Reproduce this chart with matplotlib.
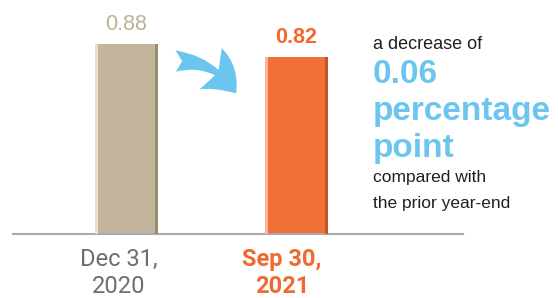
import matplotlib.pyplot as plt
from matplotlib.patches import FancyArrowPatch

# data
categories = ['Dec 31,\n2020', 'Sep 30,\n2021']
ratios = [0.88, 0.82]
value_labels = ['0.88', '0.82']
decrease = '0.06'

bar_colors = ['#C3B59B', '#F07038']
light_edges = ['#E6DDCC', '#F9B797']
dark_edges = ['#9C8C6E', '#C4532A']
label_colors = ['#BFB196', '#F06A30']
tick_colors = ['#6D6E71', '#F06A30']
label_weights = ['normal', 'bold']
label_shift = [-8, -14]  # labels sit a little left of the bars in the original
blue = '#6CC5EF'

fig = plt.figure(figsize=(5.58, 2.98), dpi=100)
ax = fig.add_axes([13 / 558, 64 / 298, 450 / 558, 234 / 298])

x = list(range(len(categories)))
w = 0.372
edge = 0.018
ax.bar(x, ratios, width=w, color=bar_colors, zorder=2)
# bevel strips on the sides of each bar
ax.bar([i - w / 2 for i in x], ratios, width=edge, align='edge', color=light_edges, zorder=3)
ax.bar([i + w / 2 - edge for i in x], ratios, width=edge, align='edge', color=dark_edges, zorder=3)

for i, v in enumerate(ratios):
    ax.annotate(value_labels[i], (x[i], v), xytext=(0, 10), textcoords='offset points',
                ha='center', va='baseline', fontsize=15.5, color=label_colors[i],
                fontweight=label_weights[i], family='Liberation Sans')

ax.set_xlim(-0.67, 1.985)
ax.set_ylim(0, 1.083)
for s in ['top', 'right', 'left']:
    ax.spines[s].set_visible(False)
ax.spines['bottom'].set_color('#A7A9AC')
ax.spines['bottom'].set_linewidth(1.5)
ax.set_yticks([])
ax.set_xticks([])

# category labels under the baseline
for i, c in enumerate(categories):
    ax.annotate(c, (x[i], 0), xytext=(label_shift[i] * 0.72, -10), textcoords='offset points',
                ha='center', va='top', fontsize=17, family='Roboto', linespacing=1.22,
                color=tick_colors[i], fontweight=label_weights[i], annotation_clip=False)

# curved arrow between the bars
arrow = FancyArrowPatch((0.274, 0.80), (0.655, 0.64), transform=ax.transData,
                        connectionstyle='arc3,rad=-0.3',
                        arrowstyle='fancy,head_length=1.5,head_width=2.0,tail_width=0.9',
                        mutation_scale=17, color=blue, lw=0, zorder=4)
ax.add_patch(arrow)

# annotation text on the right
fig.text(373 / 558, 1 - 49 / 298, 'a decrease of', fontsize=13, color='#231F20',
         family='Liberation Sans', va='baseline')
fig.text(373 / 558, 1 - 83 / 298, decrease, fontsize=24, color=blue, fontweight='bold',
         family='Liberation Sans', va='baseline')
fig.text(373 / 558, 1 - 120 / 298, 'percentage', fontsize=24, color=blue, fontweight='bold',
         family='Liberation Sans', va='baseline')
fig.text(373 / 558, 1 - 157 / 298, 'point', fontsize=24, color=blue, fontweight='bold',
         family='Liberation Sans', va='baseline')
fig.text(373 / 558, 1 - 182 / 298, 'compared with', fontsize=12.5, color='#231F20',
         family='Liberation Sans', va='baseline')
fig.text(373 / 558, 1 - 208 / 298, 'the prior year-end', fontsize=12.5, color='#231F20',
         family='Liberation Sans', va='baseline')

fig.savefig('out.png', dpi=100)
